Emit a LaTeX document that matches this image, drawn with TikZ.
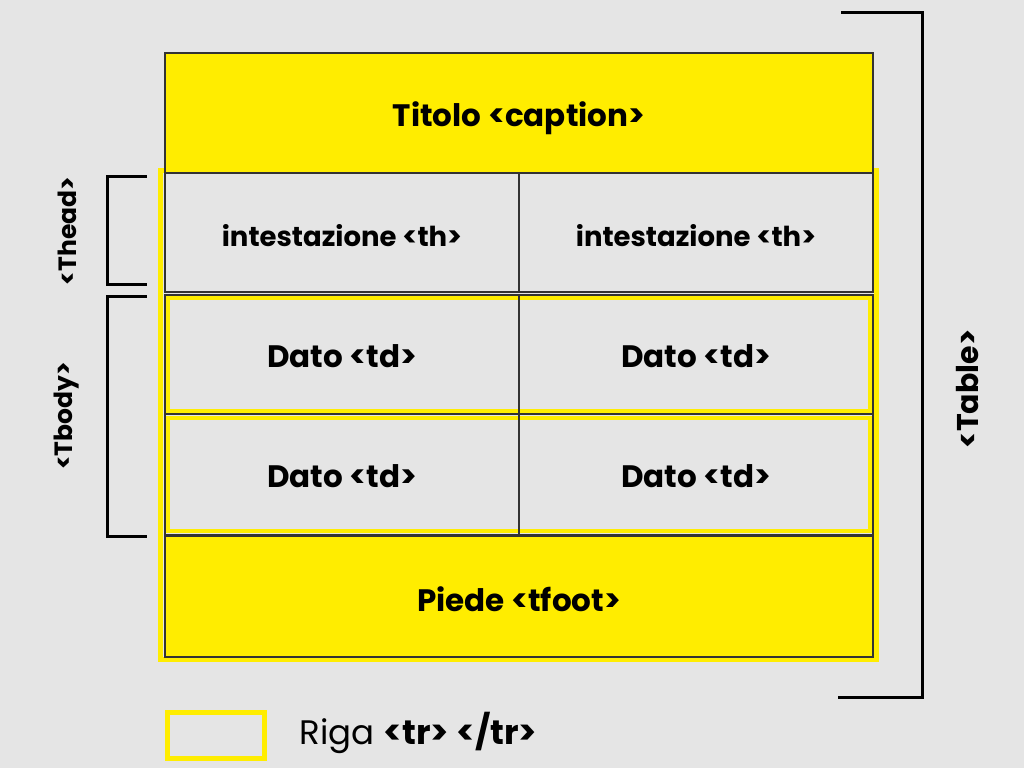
\documentclass[tikz,border=0pt]{standalone}
\usepackage{fontspec}
\setmainfont{Poppins}[BoldFont={Poppins Bold}]
\definecolor{bg}{HTML}{E5E5E5}
\definecolor{ylw}{HTML}{FFED00}
\definecolor{cellbg}{HTML}{E5E5E5}
\definecolor{edge}{HTML}{333333}
\begin{document}
\begin{tikzpicture}[x=1pt,y=-1pt,
  cell/.style={draw=edge,line width=1.5pt,fill=cellbg},
  ycell/.style={draw=edge,line width=1.5pt,fill=ylw},
  rowline/.style={draw=ylw,line width=5pt},
  brk/.style={draw=black,line width=3pt},
  thlbl/.style={font=\bfseries\fontsize{27.5}{30}\selectfont,text=black},
  tdlbl/.style={font=\bfseries\fontsize{31}{34}\selectfont,text=black},
  big/.style={font=\bfseries\fontsize{31}{34}\selectfont,text=black},
  side/.style={font=\bfseries\fontsize{25}{28}\selectfont,text=black,rotate=90}]
\useasboundingbox[fill=bg] (0,0) rectangle (1024,768);
% outer row outline
\draw[rowline] (160.5,170) rectangle (876,659);
% caption
\draw[ycell] (165,53) rectangle (873,173);
\node[big] (cap) at (519,118) {Titolo <caption>};
% header row
\draw[cell] (165,173) rectangle (519,292);
\draw[cell] (519,173) rectangle (873,292);
\node[thlbl] (th1) at (342,236) {intestazione <th>};
\node[thlbl] (th2) at (696,236) {intestazione <th>};
% data row 1
\draw[cell] (165,295) rectangle (519,414);
\draw[cell] (519,295) rectangle (873,414);
\draw[rowline,line width=4pt] (167.5,298) rectangle (869.5,411);
\draw[draw=edge,line width=1.5pt] (165,295) rectangle (873,414) (519,295) -- (519,414);
\node[tdlbl] (d11) at (342,356) {Dato <td>};
\node[tdlbl] (d12) at (696,356) {Dato <td>};
% data row 2
\draw[cell] (165,414) rectangle (519,535);
\draw[cell] (519,414) rectangle (873,535);
\draw[rowline,line width=4pt] (167.5,418) rectangle (869.5,531);
\draw[draw=edge,line width=1.5pt] (165,414) rectangle (873,535) (519,414) -- (519,535);
\node[tdlbl] (d21) at (342,476) {Dato <td>};
\node[tdlbl] (d22) at (696,476) {Dato <td>};
% footer
\draw[ycell] (165,536) rectangle (873,657);
\node[big] (foot) at (519,599) {Piede <tfoot>};
% brackets
\draw[brk] (147,176) -- (107,176) -- (107,284) -- (147,284);
\node[side] (thead) at (67,231) {<Thead>};
\draw[brk] (147,296) -- (107,296) -- (107,536) -- (147,536);
\node[side] (tbody) at (67,416) {<Tbody>};
\draw[brk] (841,13) -- (922,13) -- (922,697) -- (838,697);
\node[side,font=\bfseries\fontsize{30}{33}\selectfont] (table) at (968,389) {<Table>};
% legend
\draw[rowline] (167,712) rectangle (264,758);
\node[anchor=west,font=\fontsize{34}{38}\selectfont,text=black] (leg) at (296,733) {Riga \textbf{<tr> </tr>}};
\end{tikzpicture}
\end{document}
